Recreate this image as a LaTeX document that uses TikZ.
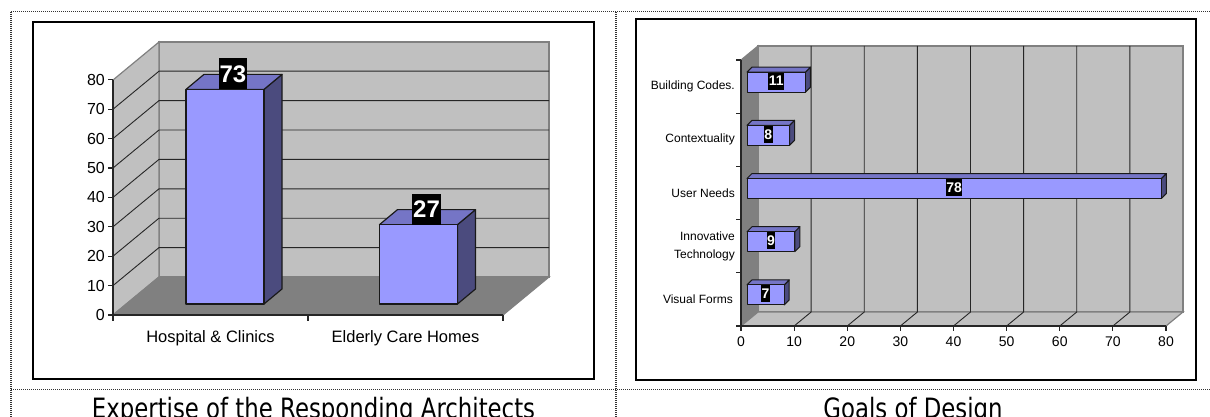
\documentclass[tikz,border=0pt]{standalone}
\usepackage{fontspec}
\setmainfont{Liberation Sans}
\newfontfamily\capfont[FakeStretch=0.815]{DejaVu Sans}
\definecolor{wallgray}{HTML}{C0C0C0}
\definecolor{floorgray}{HTML}{808080}
\definecolor{barfront}{HTML}{9999FF}
\definecolor{bartop}{HTML}{7575C6}
\definecolor{barside}{HTML}{4B4B7E}
\tikzset{
  dotline/.style={line width=1pt, dash pattern=on 1pt off 1pt, black!80},
  chartbox/.style={line width=2pt, draw=black},
  wall/.style={fill=wallgray, draw=floorgray, line width=1.2pt},
  gridln/.style={black!85, line width=0.9pt},
  axisln/.style={black!85, line width=1.2pt},
  barface/.style={draw=black!90, line width=1.2pt, line join=round},
  bigval/.style={fill=black, text=white, font=\bfseries\fontsize{24}{24}\selectfont, inner xsep=0.7pt, inner ysep=0pt, minimum height=31pt},
  smallval/.style={fill=black, text=white, font=\bfseries\fontsize{14}{14}\selectfont, inner xsep=0.5pt, inner ysep=0pt, minimum height=17pt},
  ylab/.style={anchor=east, font=\fontsize{16}{16}\selectfont, inner sep=0pt},
  catlab/.style={font=\fontsize{16.5}{16.5}\selectfont, inner sep=0pt},
  rcat/.style={anchor=east, align=right, font=\fontsize{12}{18}\selectfont, inner sep=0pt},
  xlab/.style={font=\fontsize{14}{14}\selectfont, inner sep=0pt},
  caption/.style={anchor=base, font=\capfont\fontsize{28}{28}\selectfont, inner sep=0pt}
}
\begin{document}
\begin{tikzpicture}[x=1pt, y=-1pt]
\useasboundingbox (0,0) rectangle (1210,417);
% ---------- frame ----------
\draw[dotline] (11,12) -- (1210,12);
\draw[dotline] (11,389) -- (1210,389);
\draw[dotline, line width=1.3pt] (11,12) -- (11,417);
\draw[dotline, line width=1.3pt] (616,12) -- (616,417);
\draw[chartbox] (33,22) rectangle (594,379);
\draw[chartbox] (636,19) rectangle (1196,380);
% ---------- left chart ----------
\filldraw[wall] (159,42) rectangle (549,277);
\filldraw[wall] (113,315) -- (113,80) -- (159,42) -- (159,277) -- cycle;
\filldraw[fill=floorgray, draw=floorgray, line width=1.2pt] (113,315) -- (503,315) -- (549,277) -- (159,277) -- cycle;
\foreach \v in {10,20,...,70}{
  \draw[gridln] (113,{315-2.94*\v}) -- (159,{277-2.94*\v}) -- (549,{277-2.94*\v});
}
\draw[axisln] (113,80) -- (113,315) -- (503,315);
\foreach \v in {0,10,...,80}{
  \draw[axisln] (108,{315-2.94*\v}) -- (113,{315-2.94*\v});
  \node[ylab] (yl\v) at (105,{315-2.94*\v}) {\v};
}
\foreach \x in {113,308,503}{ \draw[axisln] (\x,315) -- (\x,321); }
\node[catlab] (catA) at (210.5,338) {Hospital \& Clinics};
\node[catlab] (catB) at (405.5,338) {Elderly Care Homes};
% bars
\foreach \cx/\v [count=\i] in {225/73,418.5/27}{
  \pgfmathsetmacro\tp{304-2.94*\v}
  \filldraw[barface, fill=barside] (\cx+39,304) -- (\cx+39,\tp) -- (\cx+57,\tp-15) -- (\cx+57,289) -- cycle;
  \filldraw[barface, fill=bartop] (\cx-39,\tp) -- (\cx+39,\tp) -- (\cx+57,\tp-15) -- (\cx-21,\tp-15) -- cycle;
  \filldraw[barface, fill=barfront] (\cx-39,304) rectangle (\cx+39,\tp);
  \node[bigval] (lv\i) at (\cx+8,\tp-15.5) {\v};
}
% ---------- right chart ----------
\filldraw[fill=floorgray, draw=floorgray, line width=1.2pt] (741,60) -- (741,326) -- (758,312) -- (758,46) -- cycle;
\filldraw[wall] (758,46) rectangle (1183,312);
\filldraw[wall] (741,326) -- (1166,326) -- (1183,312) -- (758,312) -- cycle;
\foreach \k in {1,...,7}{
  \draw[gridln] ({741+53.125*\k},326) -- ({758+53.125*\k},312) -- ({758+53.125*\k},46);
}
\draw[axisln] (741,60) -- (741,326) -- (1166,326);
\foreach \j in {0,...,5}{ \draw[axisln] (736,{60+53.2*\j}) -- (741,{60+53.2*\j}); }
\foreach \k in {0,...,8}{
  \draw[axisln] ({741+53.125*\k},326) -- ({741+53.125*\k},331);
  \pgfmathtruncatemacro\lab{10*\k}
  \node[xlab] (xl\k) at ({741+53.125*\k},342) {\lab};
}
\node[rcat] (rc1) at (735,86.6) {Building Codes.};
\node[rcat] (rc2) at (735,139.8) {Contextuality};
\node[rcat] (rc3) at (735,193) {User Needs};
\node[rcat] (rc4) at (735,246.2) {Innovative\\Technology};
\node[rcat] (rc5) at (733,299.4) {Visual Forms};
\foreach \cy/\v [count=\i] in {86.6/11,139.8/8,193/78,246.2/9,299.4/7}{
  \pgfmathsetmacro\rt{747+5.3125*\v}
  \pgfmathsetmacro\fc{\cy-4.5}
  \filldraw[barface, line width=1pt, fill=barside] (\rt,\fc+10) -- (\rt,\fc-10) -- (\rt+5,\fc-15) -- (\rt+5,\fc+5) -- cycle;
  \filldraw[barface, line width=1pt, fill=bartop] (747,\fc-10) -- (\rt,\fc-10) -- (\rt+5,\fc-15) -- (752,\fc-15) -- cycle;
  \filldraw[barface, line width=1pt, fill=barfront] (747,\fc-10) rectangle (\rt,\fc+10);
  \node[smallval] (rv\i) at ({(747+\rt)/2},\fc-1) {\v};
}
% ---------- captions ----------
\node[caption] (capL) at (313.5,418) {Expertise of the Responding Architects};
\node[caption] (capR) at (913,418) {Goals of Design};
\end{tikzpicture}
\end{document}
